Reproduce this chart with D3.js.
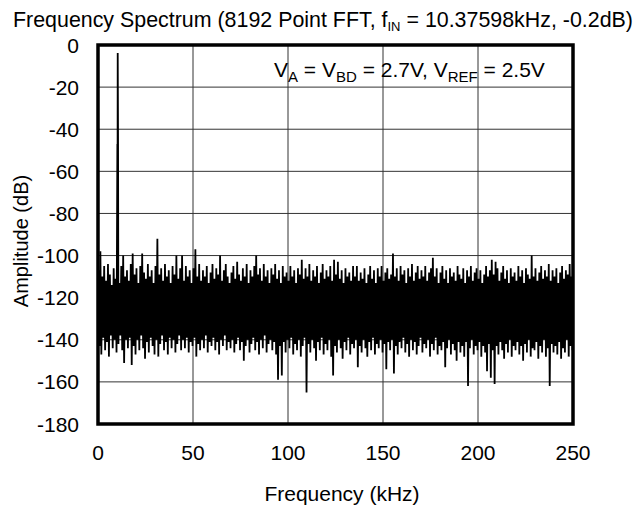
<!DOCTYPE html>
<html>
<head>
<meta charset="utf-8">
<script src="https://cdn.jsdelivr.net/npm/d3@7"></script>
<style>
  body { margin: 0; background: #fff; }
  text { font-family: "Liberation Sans", Arial, sans-serif; fill: #000; }
</style>
</head>
<body>
<div id="chart"></div>
<script>
// tick labels
const xTicks = [0, 50, 100, 150, 200, 250];
const yTicks = [0, -20, -40, -60, -80, -100, -120, -140, -160, -180];

// fundamental tone (kHz, dB)
const toneFreq = [10.2, 10.376, 10.55];
const toneDb = [-47, -3.8, -46];

// noise floor, one upper and one lower value per kHz bin
const noiseHigh = [
  -107, -98, -110, -105, -112, -104, -109, -114, -106, -111,
  -108, -113, -105, -100, -110, -107, -112, -104, -99, -109,
  -106, -113, -105, -99, -108, -111, -104, -110, -107, -113,
  -105, -92, -109, -106, -112, -104, -110, -107, -113, -105,
  -109, -100, -111, -106, -100, -112, -105, -110, -107, -113,
  -106, -97, -110, -104, -112, -107, -110, -105, -113, -108,
  -104, -111, -106, -109, -100, -112, -107, -104, -110, -113,
  -108, -105, -111, -103, -109, -112, -106, -110, -104, -113,
  -107, -110, -105, -100, -109, -106, -112, -104, -110, -107,
  -113, -106, -109, -104, -111, -107, -113, -105, -110, -108,
  -112, -105, -110, -107, -113, -106, -109, -102, -111, -106,
  -110, -104, -112, -107, -110, -105, -113, -108, -104, -111,
  -107, -110, -105, -112, -102, -109, -103, -111, -107, -113,
  -106, -110, -108, -112, -105, -110, -105, -112, -108, -111,
  -106, -113, -109, -105, -111, -107, -113, -106, -110, -105,
  -112, -108, -106, -111, -109, -99, -110, -106, -112, -105,
  -109, -107, -113, -106, -110, -104, -112, -108, -105, -111,
  -107, -110, -105, -112, -108, -106, -101, -110, -106, -113,
  -108, -105, -111, -107, -113, -106, -110, -108, -112, -105,
  -109, -111, -106, -113, -107, -110, -105, -112, -108, -106,
  -111, -107, -113, -109, -105, -110, -107, -102, -109, -103,
  -106, -112, -108, -105, -111, -107, -113, -106, -110, -108,
  -112, -105, -110, -107, -113, -106, -109, -111, -100, -110,
  -106, -112, -108, -105, -111, -107, -110, -104, -112, -107,
  -110, -106, -113, -108, -105, -111, -107, -109, -104, -110
];
const noiseLow = [
  -143, -147, -139, -145, -141, -148, -138, -144, -140, -146,
  -142, -138, -145, -151, -140, -144, -139, -152, -143, -147,
  -140, -145, -138, -144, -149, -141, -146, -139, -143, -147,
  -140, -148, -142, -138, -145, -141, -147, -139, -144, -140,
  -146, -142, -138, -145, -140, -144, -139, -146, -141, -143,
  -139, -148, -142, -145, -140, -144, -138, -146, -141, -143,
  -139, -145, -141, -147, -140, -143, -138, -145, -141, -144,
  -140, -146, -142, -139, -145, -141, -150, -143, -140, -146,
  -142, -139, -145, -141, -147, -140, -144, -138, -146, -142,
  -140, -145, -141, -147, -159, -143, -157, -141, -146, -140,
  -144, -139, -147, -142, -145, -140, -148, -143, -139, -165,
  -142, -146, -140, -144, -150, -141, -145, -139, -147, -142,
  -145, -140, -148, -157, -143, -146, -140, -144, -149, -141,
  -145, -139, -147, -142, -144, -140, -153, -143, -146, -140,
  -144, -148, -141, -145, -139, -147, -142, -144, -140, -146,
  -142, -154, -141, -145, -140, -156, -143, -147, -141, -144,
  -139, -146, -142, -148, -140, -145, -141, -147, -143, -139,
  -146, -142, -144, -140, -148, -142, -145, -139, -147, -143,
  -145, -141, -153, -144, -140, -147, -142, -145, -150, -141,
  -146, -143, -148, -141, -162, -144, -140, -147, -143, -145,
  -141, -148, -143, -146, -155, -142, -158, -145, -161, -143,
  -147, -141, -145, -149, -142, -146, -140, -148, -143, -145,
  -141, -147, -143, -150, -142, -146, -140, -148, -144, -145,
  -141, -149, -143, -146, -140, -148, -144, -162, -142, -146,
  -143, -147, -141, -149, -144, -146, -140, -148, -143, -145
];

// merge into one frequency-sorted trace
let spectrum = [];
noiseHigh.forEach((v, i) => spectrum.push({f: i + 0.25, db: v}));
noiseLow.forEach((v, i) => spectrum.push({f: i + 0.75, db: v}));
toneFreq.forEach((f, i) => spectrum.push({f: f, db: toneDb[i]}));
spectrum.sort((a, b) => d3.ascending(a.f, b.f));

const width = 633, height = 507;
const plot = {left: 98, right: 573, top: 45, bottom: 424};

const xScale = d3.scaleLinear().domain([0, 250]).range([plot.left, plot.right]);
const yScale = d3.scaleLinear().domain([-180, 0]).range([plot.bottom, plot.top]);

const svg = d3.select("#chart").append("svg")
    .attr("width", width)
    .attr("height", height);

// grid
svg.append("g")
    .selectAll("line")
    .data(yTicks.filter(d => d > -180 && d < 0))
    .enter().append("line")
    .attr("x1", plot.left).attr("x2", plot.right)
    .attr("y1", d => yScale(d)).attr("y2", d => yScale(d))
    .attr("stroke", "#333").attr("stroke-width", 1);

svg.append("g")
    .selectAll("line")
    .data(xTicks.filter(d => d > 0 && d < 250))
    .enter().append("line")
    .attr("y1", plot.top).attr("y2", plot.bottom)
    .attr("x1", d => xScale(d)).attr("x2", d => xScale(d))
    .attr("stroke", "#333").attr("stroke-width", 1);

// spectrum trace
const line = d3.line()
    .x(d => xScale(d.f))
    .y(d => yScale(d.db));

svg.append("path")
    .datum(spectrum)
    .attr("fill", "none")
    .attr("stroke", "#000")
    .attr("stroke-width", 1.8)
    .attr("stroke-linejoin", "miter")
    .attr("d", line);

// frame
svg.append("rect")
    .attr("x", plot.left).attr("y", plot.top)
    .attr("width", plot.right - plot.left)
    .attr("height", plot.bottom - plot.top)
    .attr("fill", "none")
    .attr("stroke", "#000")
    .attr("stroke-width", 3.5);

// tick labels
svg.append("g")
    .selectAll("text")
    .data(yTicks)
    .enter().append("text")
    .attr("x", 79)
    .attr("y", d => yScale(d))
    .attr("dy", "0.36em")
    .attr("text-anchor", "end")
    .style("font-size", "21px")
    .text(d => d);

svg.append("g")
    .selectAll("text")
    .data(xTicks)
    .enter().append("text")
    .attr("x", d => xScale(d))
    .attr("y", 460)
    .attr("text-anchor", "middle")
    .style("font-size", "21px")
    .text(d => d);

// axis titles
svg.append("text")
    .attr("x", 342)
    .attr("y", 501)
    .attr("text-anchor", "middle")
    .style("font-size", "21px")
    .text("Frequency (kHz)");

svg.append("text")
    .attr("transform", "translate(28,241) rotate(-90)")
    .attr("text-anchor", "middle")
    .style("font-size", "20px")
    .text("Amplitude (dB)");

// chart title
const title = svg.append("text")
    .attr("x", 13)
    .attr("y", 27)
    .style("font-size", "21.4px");
title.append("tspan").text("Frequency Spectrum (8192 Point FFT, f");
title.append("tspan").attr("dy", 4).style("font-size", "13px").text("IN");
title.append("tspan").attr("dy", -4).text(" = 10.37598kHz, -0.2dB)");

// conditions annotation
const note = svg.append("text")
    .attr("x", 274)
    .attr("y", 77)
    .style("font-size", "21px");
note.append("tspan").text("V");
note.append("tspan").attr("dy", 5).style("font-size", "15px").text("A");
note.append("tspan").attr("dy", -5).text(" = V");
note.append("tspan").attr("dy", 5).style("font-size", "15px").text("BD");
note.append("tspan").attr("dy", -5).text(" = 2.7V, V");
note.append("tspan").attr("dy", 5).style("font-size", "15px").text("REF");
note.append("tspan").attr("dy", -5).text(" = 2.5V");
</script>
</body>
</html>
